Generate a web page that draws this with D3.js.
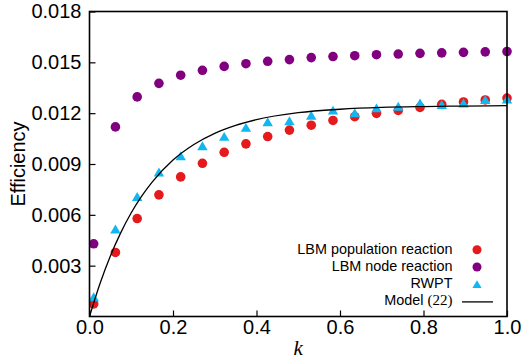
<!DOCTYPE html>
<html>
<head>
<meta charset="utf-8">
<script src="https://d3js.org/d3.v7.min.js"></script>
<style>
  body { margin: 0; background: #fff; }
  text { font-family: "Liberation Sans", Arial, Helvetica, sans-serif; }
</style>
</head>
<body>
<script>
  // sampled k values (20 runs)
  const kValues = [0.01, 0.0621, 0.1142, 0.1663, 0.2184, 0.2705, 0.3226, 0.3747, 0.4268, 0.4789,
                   0.5311, 0.5832, 0.6353, 0.6874, 0.7395, 0.7916, 0.8437, 0.8958, 0.9479, 1.0];
  const populationReaction = [0.00074, 0.00378, 0.00578, 0.00718, 0.00824, 0.00904, 0.00969, 0.01019, 0.01062, 0.01100,
                              0.01129, 0.01157, 0.01179, 0.01199, 0.01216, 0.01234, 0.01252, 0.01266, 0.01278, 0.01289];
  const nodeReaction = [0.00429, 0.01119, 0.01296, 0.01376, 0.01424, 0.01453, 0.01476, 0.01492, 0.01506, 0.01516,
                        0.01528, 0.01534, 0.01539, 0.01545, 0.01549, 0.01553, 0.01556, 0.01559, 0.01562, 0.01564];
  const rwpt = [0.00117, 0.00516, 0.00708, 0.00853, 0.00949, 0.01008, 0.01063, 0.01116, 0.01149, 0.01155,
                0.01188, 0.01218, 0.01202, 0.01231, 0.01241, 0.01260, 0.01251, 0.01260, 0.01280, 0.01284];

  // model curve
  const modelK = [0, 0.025, 0.05, 0.075, 0.1, 0.125, 0.15, 0.2, 0.25, 0.3, 0.35, 0.4, 0.5, 0.6, 0.7, 0.8, 0.9, 1.0];
  const modelEff = [0, 0.00193, 0.00357, 0.00495, 0.00612, 0.00710, 0.00793, 0.00923, 0.01015, 0.01081,
                    0.01128, 0.01162, 0.01203, 0.01223, 0.01234, 0.01239, 0.01242, 0.01244];

  const xTicks = [0, 0.2, 0.4, 0.6, 0.8, 1.0];
  const yTicks = [0.003, 0.006, 0.009, 0.012, 0.015, 0.018];

  const width = 522, height = 364;
  const plot = { left: 89.5, right: 507, top: 11.5, bottom: 316.5 };

  const colors = { pop: "#e41a1c", node: "#800080", rwpt: "#12b6f0" };

  const svg = d3.select("body").append("svg")
    .attr("width", width)
    .attr("height", height);

  const x = d3.scaleLinear().domain([0, 1]).range([plot.left, plot.right]);
  const y = d3.scaleLinear().domain([0, 0.018]).range([plot.bottom, plot.top]);

  // triangle marker, centred on its bounding box
  const triangle = {
    draw(context, size) {
      const w = Math.sqrt(size);
      context.moveTo(0, -w * 0.47);
      context.lineTo(w * 0.55, w * 0.47);
      context.lineTo(-w * 0.55, w * 0.47);
      context.closePath();
    }
  };

  // axes with inward ticks
  const xAxis = svg.append("g")
    .attr("transform", "translate(0," + plot.bottom + ")")
    .call(d3.axisBottom(x).tickValues(xTicks).tickFormat(d3.format(".1f"))
      .tickSizeInner(-6).tickSizeOuter(0).tickPadding(3));
  const yAxis = svg.append("g")
    .attr("transform", "translate(" + plot.left + ",0)")
    .call(d3.axisLeft(y).tickValues(yTicks).tickFormat(d3.format(".3f"))
      .tickSizeInner(-6).tickSizeOuter(0).tickPadding(8));

  [xAxis, yAxis].forEach(a => {
    a.select(".domain").remove();
    a.selectAll(".tick line").attr("stroke", "#000").attr("stroke-width", 1.2);
    a.selectAll(".tick text")
      .attr("fill", "#000")
      .style("font-size", "20px")
      .style("font-family", "'Liberation Sans', Arial, Helvetica, sans-serif");
  });

  // points
  const pts = kValues.map((k, i) => ({ k, pop: populationReaction[i], node: nodeReaction[i], rw: rwpt[i] }));

  svg.append("g").selectAll("circle")
    .data(pts).enter().append("circle")
    .attr("cx", d => x(d.k))
    .attr("cy", d => y(d.pop))
    .attr("r", 4.8)
    .attr("fill", colors.pop);

  svg.append("g").selectAll("circle")
    .data(pts).enter().append("circle")
    .attr("cx", d => x(d.k))
    .attr("cy", d => y(d.node))
    .attr("r", 4.8)
    .attr("fill", colors.node);

  svg.append("g").selectAll("path")
    .data(pts).enter().append("path")
    .attr("transform", d => "translate(" + x(d.k) + "," + y(d.rw) + ")")
    .attr("d", d3.symbol().type(triangle).size(90))
    .attr("fill", colors.rwpt);

  // model line
  const line = d3.line()
    .x((d, i) => x(modelK[i]))
    .y(d => y(d))
    .curve(d3.curveMonotoneX);

  svg.append("path")
    .datum(modelEff)
    .attr("d", line)
    .attr("fill", "none")
    .attr("stroke", "#000")
    .attr("stroke-width", 1.3);

  // frame
  svg.append("rect")
    .attr("x", plot.left)
    .attr("y", plot.top)
    .attr("width", plot.right - plot.left)
    .attr("height", plot.bottom - plot.top)
    .attr("fill", "none")
    .attr("stroke", "#000")
    .attr("stroke-width", 1.6);

  // axis labels
  svg.append("text")
    .attr("transform", "translate(25," + ((plot.top + plot.bottom) / 2) + ") rotate(-90)")
    .attr("text-anchor", "middle")
    .style("font-size", "20px")
    .text("Efficiency");

  svg.append("text")
    .attr("x", (plot.left + plot.right) / 2)
    .attr("y", 355)
    .attr("text-anchor", "middle")
    .style("font-size", "21px")
    .style("font-family", "'Liberation Serif', 'DejaVu Serif', serif")
    .style("font-style", "italic")
    .text("k");

  // legend
  const legendRows = ["LBM population reaction", "LBM node reaction", "RWPT", "Model"];
  const legendX = 452.5, legendY0 = 253.5, legendStep = 17.3, markX = 477;

  const legend = svg.append("g");
  legendRows.forEach((label, i) => {
    const by = legendY0 + i * legendStep;
    const t = legend.append("text")
      .attr("x", legendX)
      .attr("y", by)
      .attr("text-anchor", "end")
      .style("font-size", "14.4px")
      .text(label);
    if (i === 3) {
      t.append("tspan").text(" ");
      t.append("tspan")
        .style("font-family", "'Liberation Serif', 'DejaVu Serif', serif")
        .style("font-size", "15px")
        .text("(22)");
      legend.append("line")
        .attr("x1", 462).attr("x2", 493)
        .attr("y1", by - 3.5).attr("y2", by - 3.5)
        .attr("stroke", "#000").attr("stroke-width", 1.3);
    } else if (i === 2) {
      legend.append("path")
        .attr("transform", "translate(" + markX + "," + (by - 4) + ")")
        .attr("d", d3.symbol().type(triangle).size(70))
        .attr("fill", colors.rwpt);
    } else {
      legend.append("circle")
        .attr("cx", markX)
        .attr("cy", by - 3.8)
        .attr("r", 4.5)
        .attr("fill", i === 0 ? colors.pop : colors.node);
    }
  });
</script>
</body>
</html>
